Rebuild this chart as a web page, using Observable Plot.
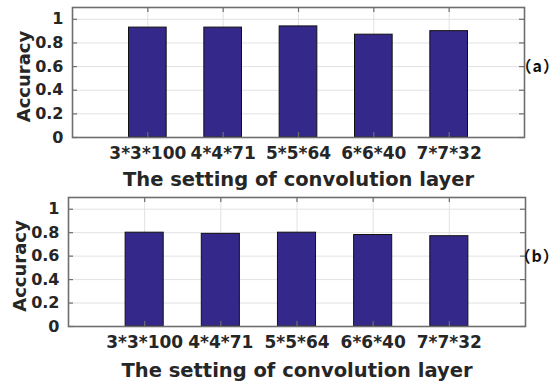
<!DOCTYPE html>
<html>
<head>
<meta charset="utf-8">
<script src="https://cdn.jsdelivr.net/npm/d3@7"></script>
<script src="https://cdn.jsdelivr.net/npm/@observablehq/plot@0.6"></script>
<style>
  html, body { margin: 0; padding: 0; background: #fff; }
  #chart { width: 560px; height: 383px; overflow: hidden; }
  #chart svg { display: block; }
  #chart text.panel-tag, #chart g.panel-tag text { letter-spacing: 1px; }
</style>
</head>
<body>
<div id="chart"></div>
<script>
const categories = ["3*3*100", "4*4*71", "5*5*64", "6*6*40", "7*7*32"];
const accuracyA = [0.93, 0.93, 0.94, 0.87, 0.90];
const accuracyB = [0.80, 0.79, 0.80, 0.78, 0.77];
const yTicks = [0, 0.2, 0.4, 0.6, 0.8, 1];
const xLabel = "The setting of convolution layer";
const yLabel = "Accuracy";
const panelTags = ["（a）", "（b）"];

const FONT = "'DejaVu Sans', 'Liberation Sans', sans-serif";
const TXT = "#262626";
const BAR = "#34288a";
const BOX = "#6e6e6e";

function panel(values, tag, opts) {
  const {height, mL, mR, mT, mB, tagDy, tagDx, labelDy} = opts;
  const data = categories.map((c, i) => ({pos: i + 1, cat: c, acc: values[i]}));
  const positions = data.map(d => d.pos);
  const innerW = 560 - mL - mR;
  const innerH = height - mT - mB;
  const tl = 5;
  return Plot.plot({
    width: 560,
    height,
    marginLeft: mL, marginRight: mR, marginTop: mT, marginBottom: mB,
    style: {fontFamily: FONT, fontWeight: "bold", color: TXT, background: "white", overflow: "visible"},
    x: {type: "linear", domain: [0, 6], axis: null},
    y: {domain: [0, 1.1], axis: null},
    marks: [
      Plot.gridY(yTicks, {stroke: "#e2e2e2", strokeOpacity: 1, strokeWidth: 1}),
      Plot.gridX(positions, {stroke: "#e2e2e2", strokeOpacity: 1, strokeWidth: 1}),
      Plot.rectY(data, {x1: d => d.pos - 0.25, x2: d => d.pos + 0.25, y1: 0, y2: "acc", fill: BAR, stroke: "#111", strokeWidth: 1}),
      // inward ticks (MATLAB box style)
      Plot.tickX(positions, {x: d => d, insetTop: innerH - tl, stroke: BOX, strokeWidth: 1.2}),
      Plot.tickX(positions, {x: d => d, insetBottom: innerH - tl, stroke: BOX, strokeWidth: 1.2}),
      Plot.tickY(yTicks, {y: d => d, insetRight: innerW - tl, stroke: BOX, strokeWidth: 1.2}),
      Plot.tickY(yTicks, {y: d => d, insetLeft: innerW - tl, stroke: BOX, strokeWidth: 1.2}),
      Plot.frame({stroke: BOX, strokeWidth: 1.6}),
      Plot.axisY({ticks: yTicks, label: null, tickSize: 0, tickPadding: 9, tickFormat: d3.format("~g"), fontSize: 16, fill: TXT}),
      Plot.axisX({ticks: positions, label: null, tickSize: 0, tickPadding: 9, tickFormat: i => categories[i - 1], fontSize: 17, fill: TXT}),
      Plot.text([xLabel], {frameAnchor: "bottom", textAnchor: "middle", dy: labelDy, lineAnchor: "middle", fontSize: 19.5, fill: TXT}),
      Plot.text([yLabel], {frameAnchor: "left", textAnchor: "middle", rotate: -90, dx: -48, dy: 4, lineAnchor: "middle", fontSize: 18, fill: TXT}),
      Plot.text([tag], {className: "panel-tag", frameAnchor: "right", textAnchor: "start", dx: tagDx, dy: tagDy, lineAnchor: "middle", fontSize: 16, fill: "#111", fontFamily: "'Noto Sans CJK SC', sans-serif", fontWeight: "bold"})
    ]
  });
}

const root = document.getElementById("chart");
root.appendChild(panel(accuracyA, panelTags[0], {height: 190, mL: 72, mR: 36, mT: 7, mB: 53, tagDy: -6, tagDx: -9, labelDy: 42}));
root.appendChild(panel(accuracyB, panelTags[1], {height: 193, mL: 68, mR: 35, mT: 7, mB: 57, tagDy: -5, tagDx: -11, labelDy: 44}));
</script>
</body>
</html>
